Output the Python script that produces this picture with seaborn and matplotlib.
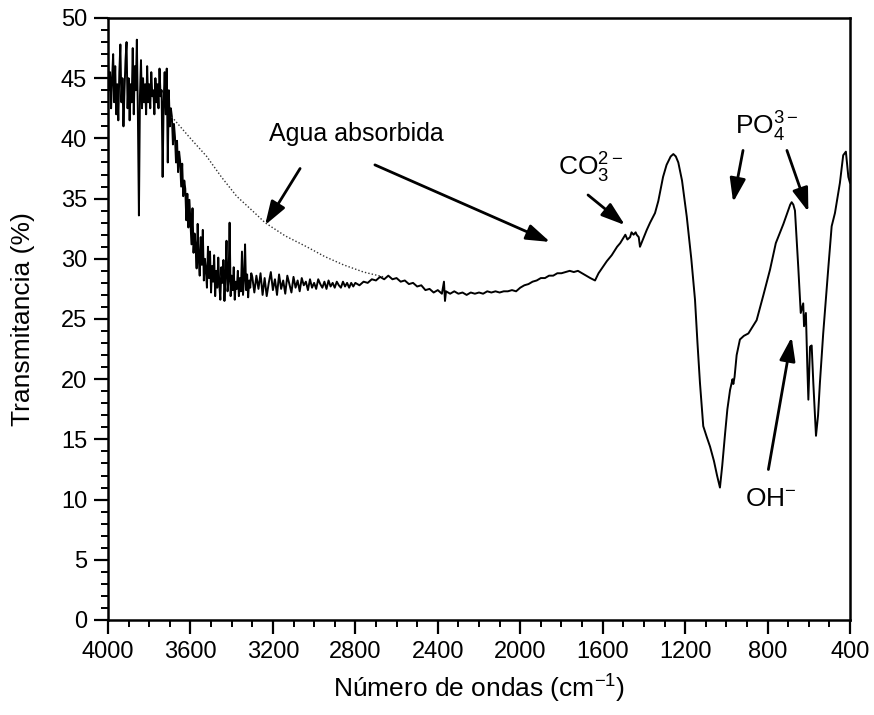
import numpy as np
import pandas as pd
import matplotlib
matplotlib.use("Agg")
import matplotlib.pyplot as plt
import seaborn as sns

# ---------------- data ----------------
# noisy high-wavenumber region, sampled every 5 cm-1 from 4000 down to 3695
wn_seg1 = np.arange(4000, 3690, -5)
t_seg1 = [46.5, 44.0, 45.5, 42.5, 45.0, 47.0, 43.0, 46.0, 42.0, 44.5,
          41.5, 45.5, 47.8, 43.0, 45.0, 41.0, 44.0, 46.5, 48.0, 42.5,
          45.0, 41.5, 44.5, 43.0, 47.5, 42.0, 46.0, 44.0, 48.2, 42.0,
          33.6, 43.5, 46.5, 42.5, 45.0, 43.0, 44.5, 42.0, 46.0, 43.0,
          44.5, 42.5, 45.5, 43.5, 44.0, 42.0, 45.0, 43.0, 44.5, 42.5,
          45.8, 43.5, 44.0, 36.8, 43.0, 45.5, 42.0, 45.8, 38.0, 44.0,
          41.0, 42.5]
# steep water band decline, every 5 cm-1 from 3690 down to 3305
wn_seg2 = np.arange(3690, 3300, -5)
t_seg2 = [41.8, 39.5, 41.2, 40.1, 38.0, 39.8, 37.2, 38.9, 38.1, 36.0,
          37.9, 35.2, 36.5, 35.8, 33.2, 35.4, 32.6, 34.9, 33.0, 31.2,
          34.2, 30.5, 32.1, 31.0, 29.2, 32.9, 30.1, 28.6, 31.8, 29.5,
          32.4, 28.2, 30.0, 29.1, 27.6, 31.0, 28.4, 30.6, 27.2, 29.4,
          28.1, 30.3, 26.9, 29.0, 27.6, 30.1, 27.9, 26.6, 29.3, 28.0,
          29.9, 26.5, 28.7, 31.5, 27.3, 28.2, 33.0, 26.9, 28.6, 27.4,
          29.3, 26.6, 28.1, 27.5, 29.0, 26.9, 28.4, 27.3, 30.6, 27.0,
          28.3, 31.2, 27.4, 28.7, 26.8, 28.2, 27.6, 28.8]
# flattening tail, every 10 cm-1 from 3300 down to 2810
wn_seg3 = np.arange(3300, 2800, -10)
t_seg3 = [28.5, 27.2, 28.6, 27.5, 28.8, 27.0, 28.4, 26.9, 28.0, 28.9,
          27.4, 28.3, 27.0, 28.7, 27.5, 28.2, 27.1, 28.6, 27.9, 27.2,
          28.5, 27.6, 28.2, 27.3, 28.4, 27.8, 28.1, 27.4, 28.3, 27.6,
          28.0, 27.5, 28.3, 27.9, 27.6, 28.1, 27.5, 28.2, 27.7, 28.0,
          27.6, 28.1, 27.8, 27.6, 28.1, 27.7, 28.0, 27.6, 28.0, 27.7]
# rest of the spectrum
wn_seg4 = [2800, 2780, 2760, 2740, 2720, 2700, 2680, 2660, 2640, 2620,
           2600, 2580, 2560, 2540, 2520, 2500, 2480, 2460, 2440, 2420,
           2400, 2380, 2370, 2365, 2360, 2340, 2320, 2300, 2280, 2260,
           2240, 2220, 2200, 2180, 2160, 2140, 2120, 2100, 2080, 2060,
           2040, 2020, 2000, 1980, 1960, 1940, 1920, 1900, 1880, 1860,
           1840, 1820, 1800, 1780, 1760, 1740, 1720, 1700, 1680, 1660,
           1637, 1620, 1600, 1580, 1556, 1530, 1515, 1501, 1490, 1480,
           1467, 1460, 1450, 1440, 1435, 1425, 1419, 1400, 1386, 1370,
           1346, 1330, 1307, 1290, 1270, 1257, 1245, 1233, 1215, 1192,
           1170, 1152, 1140, 1128, 1112, 1095, 1079, 1060, 1045, 1031,
           1020, 1006, 995, 982, 970, 966, 960, 950, 934, 915,
           893, 875, 853, 820, 788, 760, 723, 700, 690, 683,
           675, 667, 651, 639, 627, 623, 614, 607, 602, 594,
           586, 578, 565, 555, 546, 530, 505, 489, 473, 449,
           433, 420, 408, 400]
t_seg4 = [28.0, 27.8, 28.1, 28.0, 28.3, 28.2, 28.5, 28.3, 28.6, 28.3,
          28.4, 28.1, 28.2, 27.9, 28.0, 27.7, 27.8, 27.4, 27.5, 27.2,
          27.4, 27.1, 28.1, 26.5, 27.3, 27.1, 27.3, 27.1, 27.2, 27.0,
          27.2, 27.1, 27.2, 27.1, 27.3, 27.2, 27.3, 27.2, 27.3, 27.3,
          27.4, 27.3, 27.6, 27.8, 27.9, 28.1, 28.2, 28.4, 28.4, 28.6,
          28.6, 28.8, 28.8, 28.9, 29.0, 28.9, 29.0, 28.8, 28.6, 28.4,
          28.2, 28.8, 29.3, 29.8, 30.3, 31.0, 31.3, 31.7, 32.0, 31.6,
          31.8, 32.2, 32.0, 32.2, 32.0, 31.8, 31.0, 31.8, 32.4, 33.0,
          33.8, 34.8, 36.8, 37.8, 38.5, 38.7, 38.5, 38.0, 36.5, 33.5,
          30.0, 26.6, 23.0, 19.7, 16.1, 15.2, 14.4, 13.2, 12.0, 11.0,
          12.8, 15.5, 17.5, 19.1, 20.0, 19.6, 20.2, 22.0, 23.3, 23.6,
          23.8, 24.3, 24.9, 27.0, 29.1, 31.3, 32.9, 34.0, 34.5, 34.7,
          34.5, 34.0, 29.3, 25.5, 26.3, 24.4, 25.5, 21.0, 18.3, 22.7,
          22.8, 19.7, 15.3, 17.0, 19.7, 23.8, 29.3, 32.7, 33.8, 36.3,
          38.6, 38.9, 36.8, 36.3]

# dotted baseline of the adsorbed water band
wn_base = [3691, 3600, 3521, 3450, 3376, 3300, 3238, 3140, 3036, 2950, 2858, 2760, 2664]
t_base = [41.8, 40.0, 38.5, 36.8, 35.2, 34.0, 33.0, 31.9, 31.0, 30.2, 29.5, 28.9, 28.5]

x_ticks = [4000, 3600, 3200, 2800, 2400, 2000, 1600, 1200, 800, 400]
y_ticks = [0, 5, 10, 15, 20, 25, 30, 35, 40, 45, 50]

spec = pd.DataFrame({
    "wn": np.concatenate([wn_seg1, wn_seg2, wn_seg3, np.array(wn_seg4)]),
    "T": np.concatenate([t_seg1, t_seg2, t_seg3, t_seg4]),
})
base = pd.DataFrame({"wn": wn_base, "T": t_base})

# ---------------- style ----------------
sns.set_style("ticks")
plt.rcParams["font.family"] = ["Liberation Sans", "DejaVu Sans"]
plt.rcParams["mathtext.fontset"] = "custom"
plt.rcParams["mathtext.rm"] = "Liberation Sans"
plt.rcParams["mathtext.it"] = "Liberation Sans:italic"
plt.rcParams["mathtext.bf"] = "Liberation Sans:bold"
plt.rcParams["mathtext.default"] = "regular"
for k in ["text.color", "axes.labelcolor", "xtick.color", "ytick.color", "axes.edgecolor"]:
    plt.rcParams[k] = "black"

fig = plt.figure(figsize=(8.74, 7.15), dpi=100)
ax = fig.add_axes([108 / 874, 1 - 620 / 715, (850 - 108) / 874, (620 - 18) / 715])

sns.lineplot(data=spec, x="wn", y="T", ax=ax, color="black", lw=1.4,
             estimator=None, sort=False)
sns.lineplot(data=base, x="wn", y="T", ax=ax, color="#333333", lw=1.0,
             linestyle=(0, (1, 1.5)), estimator=None, sort=False)

ax.set_xlim(4000, 400)
ax.set_ylim(0, 50)
ax.set_xticks(x_ticks)
ax.set_yticks(y_ticks)
ax.set_xticks(np.arange(400, 4001, 100), minor=True)
ax.set_yticks(np.arange(0, 51, 1), minor=True)
ax.tick_params(axis="both", which="major", length=10, width=1.6, labelsize=17,
               pad=5, direction="out", color="black", labelcolor="black")
ax.tick_params(axis="both", which="minor", length=5, width=1.4, direction="out",
               color="black")
for sp in ax.spines.values():
    sp.set_visible(True)
    sp.set_linewidth(1.8)
    sp.set_color("black")

ax.set_xlabel("Número de ondas (cm$^{-1}$)", fontsize=19, color="black")
ax.set_ylabel("Transmitancia (%)", fontsize=19, color="black")
ax.xaxis.set_label_coords(0.5, -0.088)
ax.yaxis.set_label_coords(-0.098, 0.5)

# ---------------- annotations ----------------
arrow = dict(arrowstyle="-|>,head_width=0.3,head_length=0.9", color="black",
             lw=2.0, mutation_scale=16, shrinkA=0, shrinkB=0)

ax.text(2797, 40.4, "Agua absorbida", fontsize=18, ha="center", va="center", color="black")
ax.annotate("", xy=(3238, 32.8), xytext=(3068, 37.5), arrowprops=arrow)
ax.annotate("", xy=(1855, 31.4), xytext=(2705, 37.8), arrowprops=arrow)

ax.text(1817, 36.9, r"CO$_3^{2-}$", fontsize=19, ha="left", va="baseline", color="black")
ax.annotate("", xy=(1492, 32.8), xytext=(1671, 35.3), arrowprops=arrow)

ax.text(958, 40.3, r"PO$_4^{3-}$", fontsize=19, ha="left", va="baseline", color="black")
ax.annotate("", xy=(967, 34.7), xytext=(919, 39.0), arrowprops=arrow)
ax.annotate("", xy=(602, 33.9), xytext=(706, 39.0), arrowprops=arrow)

ax.text(909, 9.5, r"OH$^{-}$", fontsize=19, ha="left", va="baseline", color="black")
ax.annotate("", xy=(683, 23.5), xytext=(796, 12.5), arrowprops=arrow)

fig.savefig("out.png", dpi=100)
